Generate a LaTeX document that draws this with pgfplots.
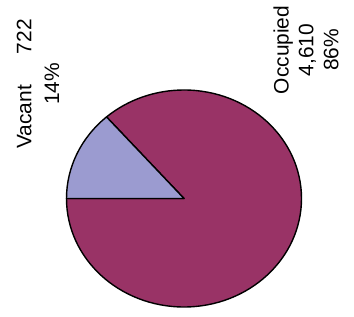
\documentclass[border=0pt]{standalone}
\usepackage{pgfplots}
\pgfplotsset{compat=1.18}
\usepackage{pgfplotstable}
\usepackage{fontspec}
\setmainfont{Liberation Sans}
\definecolor{occ}{HTML}{993366}
\definecolor{vac}{HTML}{9B9BD0}
\pgfplotstableread{
label value
Vacant 722
Occupied 4610
}\piedata
\begin{document}
\begin{tikzpicture}
\pgfplotstablegetelem{0}{value}\of\piedata \xdef\vv{\pgfplotsretval}
\pgfplotstablegetelem{1}{value}\of\piedata \xdef\ov{\pgfplotsretval}
\pgfmathsetmacro{\va}{360*((\vv/100)/((\vv+\ov)/100))}
\pgfmathsetmacro{\sa}{180-\va}
\pgfmathsetmacro{\ea}{540-\va}
\xdef\sa{\sa}\xdef\ea{\ea}
\useasboundingbox (0,0) rectangle (354bp,317bp);
\begin{axis}[at={(0,0)}, anchor=south west, scale only axis,
  width=354bp, height=317bp, xmin=0, xmax=354, ymin=0, ymax=317,
  hide axis, clip=false]
\filldraw[fill=occ, draw=black, line width=1.4bp, line join=round]
  (axis cs:184,118.5) -- ++(180:117.5bp and 108.5bp)
  arc[start angle=180, end angle=\ea, x radius=117.5bp, y radius=108.5bp] -- cycle;
\filldraw[fill=vac, draw=black, line width=1.4bp, line join=round]
  (axis cs:184,118.5) -- ++(\sa:117.5bp and 108.5bp)
  arc[start angle=\sa, end angle=180, x radius=117.5bp, y radius=108.5bp] -- cycle;
\node[rotate=90, align=center, font=\fontsize{21}{28}\selectfont]
  at (axis cs:38,233) {Vacant\hspace{31bp}722\\14\%};
\node[rotate=90, align=center, font=\fontsize{21}{25}\selectfont]
  at (axis cs:306,267) {Occupied\\4,610\\86\%};
\end{axis}
\end{tikzpicture}
\end{document}
